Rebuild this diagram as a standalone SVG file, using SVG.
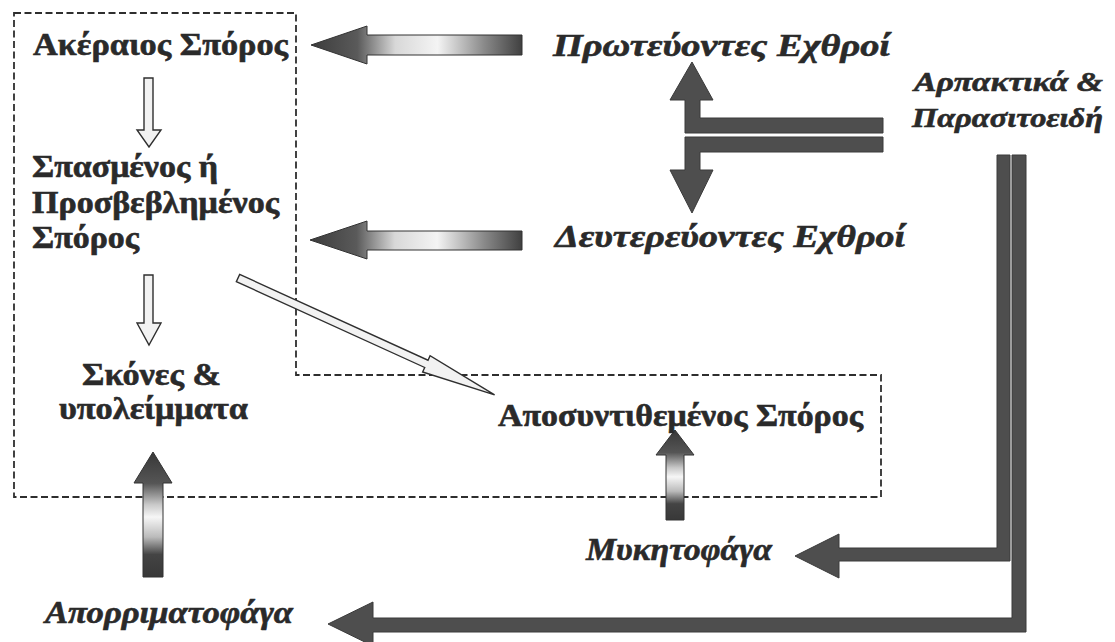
<svg xmlns="http://www.w3.org/2000/svg" width="1115" height="642" viewBox="0 0 1115 642">
<style>
.t{font-family:"Liberation Serif","Times New Roman",serif;font-weight:bold;fill:#2a2a2a;stroke:#2a2a2a;stroke-width:0.6;font-size:31px}
.i{font-style:italic}
.s{font-size:27px}
.dash{fill:none;stroke:#2e2e2e;stroke-width:1.8;stroke-dasharray:7 3.5}
.hollow{fill:#f2f2f2;stroke:#2f2f2f;stroke-width:1.4}
.dark{fill:#4e4e4e;stroke:#3a3a3a;stroke-width:1}
.gh{fill:url(#gh);stroke:#333;stroke-width:1}
.gv{fill:url(#gv);stroke:#333;stroke-width:1}
</style>
<defs>
<linearGradient id="gh" x1="0" y1="0" x2="1" y2="0">
<stop offset="0" stop-color="#3c3c3c"/>
<stop offset="0.22" stop-color="#5a5a5a"/>
<stop offset="0.4" stop-color="#d8d8d8"/>
<stop offset="0.6" stop-color="#f4f4f4"/>
<stop offset="0.82" stop-color="#8a8a8a"/>
<stop offset="1" stop-color="#404040"/>
</linearGradient>
<linearGradient id="gv" x1="0" y1="0" x2="0" y2="1">
<stop offset="0" stop-color="#383838"/>
<stop offset="0.25" stop-color="#555"/>
<stop offset="0.42" stop-color="#c8c8c8"/>
<stop offset="0.52" stop-color="#f6f6f6"/>
<stop offset="0.68" stop-color="#bbb"/>
<stop offset="0.82" stop-color="#444"/>
<stop offset="1" stop-color="#383838"/>
</linearGradient>
</defs>
<rect width="1115" height="642" fill="#ffffff"/>

<g id="boundary">
<path class="dash" d="M14,13 H296 V375 H881 V497 H14 Z"/>
</g>

<g id="connectors">
<polygon class="hollow" points="144,78 153,78 153,130 161,130 149,147 137,130 144,130"/>
<polygon class="hollow" points="144,275 153,275 153,323 161,323 149,345 137,323 144,323"/>
<g transform="translate(238,278) rotate(24.5)">
<polygon class="hollow" points="0,-4 207,-4 207,-9 282,0 207,9 207,4 0,4"/>
</g>
<polygon class="gh" points="311,45 367,26 367,35 522,35 522,55 367,55 367,64"/>
<polygon class="gh" points="310,240 367,221 367,231 522,231 522,250 367,250 367,259"/>
<path class="dark" d="M883,118 H700 V100 H713 L692,62 L670,100 H685 V133 H883 Z"/>
<path class="dark" d="M883,152 H700 V170 H713 L692,213 L670,170 H685 V137 H883 Z"/>
<path class="dark" d="M997,155 H1010 V561 H839 V578 L795,556 L839,534 V548 H997 Z"/>
<path class="dark" d="M1012,155 H1026 V632 H373 V646 L328,624 L373,602 V618 H1012 Z"/>
<polygon class="gv" points="143,577 143,483 134,483 153,452 172,483 163,483 163,577"/>
<polygon class="gv" points="666,520 666,455 656,455 675,430 694,455 684,455 684,520"/>
</g>

<g id="n-akeraios"><text class="t" x="33" y="55" textLength="255" lengthAdjust="spacingAndGlyphs">Ακέραιος Σπόρος</text></g>
<g id="n-spasmenos">
<text class="t" x="32" y="177" textLength="186" lengthAdjust="spacingAndGlyphs">Σπασμένος ή</text>
<text class="t" x="32" y="213" textLength="247" lengthAdjust="spacingAndGlyphs">Προσβεβλημένος</text>
<text class="t" x="32" y="248" textLength="107" lengthAdjust="spacingAndGlyphs">Σπόρος</text>
</g>
<g id="n-skones">
<text class="t" x="82" y="385" textLength="139" lengthAdjust="spacingAndGlyphs">Σκόνες &amp;</text>
<text class="t" x="59" y="419" textLength="189" lengthAdjust="spacingAndGlyphs">υπολείμματα</text>
</g>
<g id="n-aposyntithemenos"><text class="t" x="498" y="426" textLength="365" lengthAdjust="spacingAndGlyphs">Αποσυντιθεμένος Σπόρος</text></g>
<g id="n-proteuontes"><text class="t i" x="553" y="56" textLength="337" lengthAdjust="spacingAndGlyphs">Πρωτεύοντες Εχθροί</text></g>
<g id="n-deutereuontes"><text class="t i" x="555" y="247" textLength="350" lengthAdjust="spacingAndGlyphs">Δευτερεύοντες Εχθροί</text></g>
<g id="n-arpaktika">
<text class="t i s" x="914" y="91" textLength="189" lengthAdjust="spacingAndGlyphs">Αρπακτικά &amp;</text>
<text class="t i s" x="912" y="127" textLength="191" lengthAdjust="spacingAndGlyphs">Παρασιτοειδή</text>
</g>
<g id="n-mykitofaga"><text class="t i" x="586" y="560" textLength="186" lengthAdjust="spacingAndGlyphs">Μυκητοφάγα</text></g>
<g id="n-aporrimatofaga"><text class="t i" x="45" y="623" textLength="248" lengthAdjust="spacingAndGlyphs">Απορριματοφάγα</text></g>
</svg>
